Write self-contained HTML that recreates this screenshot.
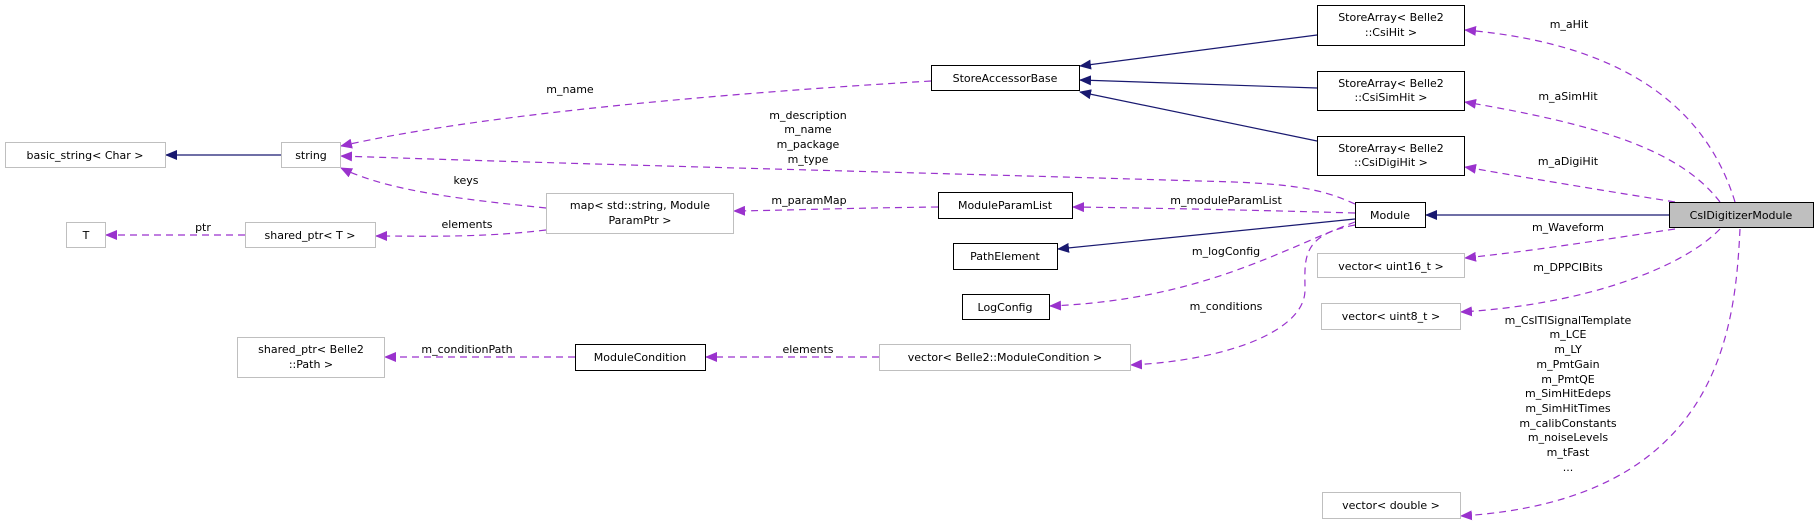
<!DOCTYPE html>
<html><head><meta charset="utf-8"><style>
html,body{margin:0;padding:0;background:#fff;}
svg text{font-family:"DejaVu Sans","Liberation Sans",sans-serif;font-size:11px;fill:#000;}
</style></head><body>
<svg width="1819" height="524" viewBox="0 0 1819 524" xmlns="http://www.w3.org/2000/svg">
<defs>
<marker id="n" markerWidth="12" markerHeight="10" refX="11" refY="5" orient="auto" markerUnits="userSpaceOnUse"><path d="M0,0 L12,5 L0,10 z" fill="#191970"/></marker>
<marker id="p" markerWidth="12" markerHeight="10" refX="11" refY="5" orient="auto" markerUnits="userSpaceOnUse"><path d="M0,0 L12,5 L0,10 z" fill="#9a32cd"/></marker>
</defs>
<g fill="none" stroke-width="1.2">
<!-- solid inheritance -->
<path d="M281,155 L166,155" stroke="#191970" marker-end="url(#n)"/>
<path d="M1317,35 L1080,66" stroke="#191970" marker-end="url(#n)"/>
<path d="M1317,88 L1080,80" stroke="#191970" marker-end="url(#n)"/>
<path d="M1317,141 L1080,92" stroke="#191970" marker-end="url(#n)"/>
<path d="M1669,215 L1426,215" stroke="#191970" marker-end="url(#n)"/>
<path d="M1355,219 L1058,249" stroke="#191970" marker-end="url(#n)"/>
<!-- dashed -->
<g stroke="#9a32cd" stroke-dasharray="7,5">
<path d="M931,81 C780,90 500,110 341,146" marker-end="url(#p)"/>
<path d="M1355,204 C1320,188 1290,183 1200,181 C900,172 600,165 341,156" marker-end="url(#p)"/>
<path d="M546,208 C470,200 390,192 341,168" marker-end="url(#p)"/>
<path d="M546,230 C480,238 420,236 376,236" marker-end="url(#p)"/>
<path d="M245,235 L106,235" marker-end="url(#p)"/>
<path d="M938,207 C850,208 800,210 734,211" marker-end="url(#p)"/>
<path d="M1355,213 C1250,210 1150,208 1073,207" marker-end="url(#p)"/>
<path d="M1355,222 C1280,250 1200,300 1050,306" marker-end="url(#p)"/>
<path d="M1355,225 C1300,235 1305,260 1305,290 C1305,330 1230,360 1131,365" marker-end="url(#p)"/>
<path d="M879,357 L706,357" marker-end="url(#p)"/>
<path d="M575,357 L385,357" marker-end="url(#p)"/>
<path d="M1735,202 C1710,120 1640,45 1465,30" marker-end="url(#p)"/>
<path d="M1720,202 C1680,150 1600,125 1465,102" marker-end="url(#p)"/>
<path d="M1675,202 C1600,190 1540,180 1465,167" marker-end="url(#p)"/>
<path d="M1675,229 C1600,240 1540,250 1465,258" marker-end="url(#p)"/>
<path d="M1720,229 C1680,270 1580,305 1461,312" marker-end="url(#p)"/>
<path d="M1740,229 C1735,330 1720,500 1461,516" marker-end="url(#p)"/>
</g>
</g>
<!-- boxes -->
<g stroke-width="1">
<rect x="5.5" y="142.5" width="160" height="25" fill="#fff" stroke="#bfbfbf"/>
<rect x="281.5" y="142.5" width="59" height="25" fill="#fff" stroke="#bfbfbf"/>
<rect x="66.5" y="222.5" width="39" height="25" fill="#fff" stroke="#bfbfbf"/>
<rect x="245.5" y="222.5" width="130" height="25" fill="#fff" stroke="#bfbfbf"/>
<rect x="546.5" y="193.5" width="187" height="40" fill="#fff" stroke="#bfbfbf"/>
<rect x="931.5" y="65.5" width="148" height="25" fill="#fff" stroke="#000"/>
<rect x="938.5" y="192.5" width="134" height="26" fill="#fff" stroke="#000"/>
<rect x="953.5" y="243.5" width="104" height="26" fill="#fff" stroke="#000"/>
<rect x="962.5" y="294.5" width="87" height="25" fill="#fff" stroke="#000"/>
<rect x="237.5" y="337.5" width="147" height="40" fill="#fff" stroke="#bfbfbf"/>
<rect x="575.5" y="344.5" width="130" height="26" fill="#fff" stroke="#000"/>
<rect x="879.5" y="344.5" width="251" height="26" fill="#fff" stroke="#bfbfbf"/>
<rect x="1317.5" y="5.5" width="147" height="40" fill="#fff" stroke="#000"/>
<rect x="1317.5" y="71.5" width="147" height="39" fill="#fff" stroke="#000"/>
<rect x="1317.5" y="136.5" width="147" height="39" fill="#fff" stroke="#000"/>
<rect x="1355.5" y="202.5" width="70" height="25" fill="#fff" stroke="#000"/>
<rect x="1669.5" y="202.5" width="144" height="25" fill="#bfbfbf" stroke="#000"/>
<rect x="1317.5" y="253.5" width="147" height="24" fill="#fff" stroke="#bfbfbf"/>
<rect x="1321.5" y="303.5" width="139" height="26" fill="#fff" stroke="#bfbfbf"/>
<rect x="1322.5" y="492.5" width="138" height="26" fill="#fff" stroke="#bfbfbf"/>
</g>
<g text-anchor="middle">
<text x="85" y="159">basic_string&lt; Char &gt;</text>
<text x="311" y="159">string</text>
<text x="86" y="239">T</text>
<text x="310" y="239">shared_ptr&lt; T &gt;</text>
<text x="640" y="209">map&lt; std::string, Module</text>
<text x="640" y="224">ParamPtr &gt;</text>
<text x="1005" y="82">StoreAccessorBase</text>
<text x="1005" y="209">ModuleParamList</text>
<text x="1005" y="260">PathElement</text>
<text x="1005" y="311">LogConfig</text>
<text x="311" y="353">shared_ptr&lt; Belle2</text>
<text x="311" y="368">::Path &gt;</text>
<text x="640" y="361">ModuleCondition</text>
<text x="1005" y="361">vector&lt; Belle2::ModuleCondition &gt;</text>
<text x="1391" y="21">StoreArray&lt; Belle2</text>
<text x="1391" y="36">::CsiHit &gt;</text>
<text x="1391" y="87">StoreArray&lt; Belle2</text>
<text x="1391" y="101">::CsiSimHit &gt;</text>
<text x="1391" y="152">StoreArray&lt; Belle2</text>
<text x="1391" y="166">::CsiDigiHit &gt;</text>
<text x="1390" y="219">Module</text>
<text x="1741" y="219">CsIDigitizerModule</text>
<text x="1391" y="270">vector&lt; uint16_t &gt;</text>
<text x="1391" y="320">vector&lt; uint8_t &gt;</text>
<text x="1391" y="509">vector&lt; double &gt;</text>
<!-- edge labels -->
<text x="570" y="93">m_name</text>
<text x="808" y="119">m_description</text>
<text x="808" y="133">m_name</text>
<text x="808" y="148">m_package</text>
<text x="808" y="163">m_type</text>
<text x="466" y="184">keys</text>
<text x="467" y="228">elements</text>
<text x="203" y="231">ptr</text>
<text x="809" y="204">m_paramMap</text>
<text x="1226" y="204">m_moduleParamList</text>
<text x="1226" y="255">m_logConfig</text>
<text x="1226" y="310">m_conditions</text>
<text x="467" y="353">m_conditionPath</text>
<text x="808" y="353">elements</text>
<text x="1569" y="28">m_aHit</text>
<text x="1568" y="100">m_aSimHit</text>
<text x="1568" y="165">m_aDigiHit</text>
<text x="1568" y="231">m_Waveform</text>
<text x="1568" y="271">m_DPPCIBits</text>
<text x="1568" y="324">m_CsITlSignalTemplate</text>
<text x="1568" y="338">m_LCE</text>
<text x="1568" y="353">m_LY</text>
<text x="1568" y="368">m_PmtGain</text>
<text x="1568" y="383">m_PmtQE</text>
<text x="1568" y="397">m_SimHitEdeps</text>
<text x="1568" y="412">m_SimHitTimes</text>
<text x="1568" y="427">m_calibConstants</text>
<text x="1568" y="441">m_noiseLevels</text>
<text x="1568" y="456">m_tFast</text>
<text x="1568" y="471">...</text>
</g>
</svg>
</body></html>
